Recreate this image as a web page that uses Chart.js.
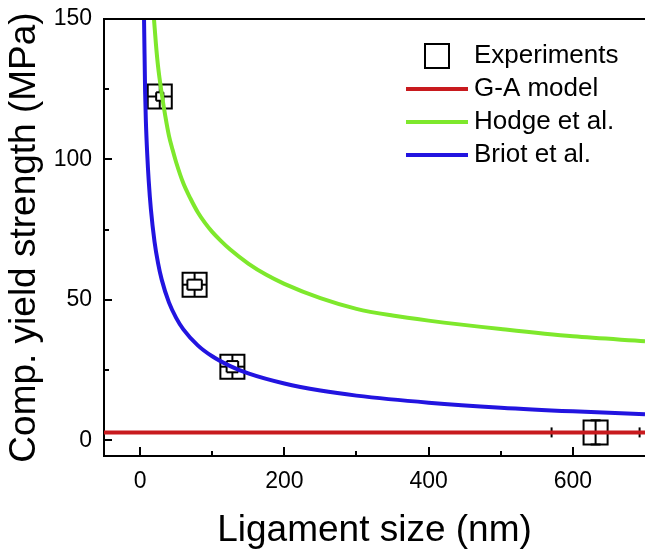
<!DOCTYPE html>
<html><head><meta charset="utf-8">
<script src="https://cdn.jsdelivr.net/npm/chart.js@4.4.1/dist/chart.umd.min.js"></script>
<style>html,body{margin:0;padding:0;background:#fff}#wrap{width:645px;height:549px}</style>
</head><body><div id="wrap"><canvas id="c" width="645" height="549"></canvas></div>
<script>
// ---- data ----
const seriesLabels = ['Experiments', 'G-A model', 'Hodge et al.', 'Briot et al.'];
const expX    = [27.3, 75.6, 128, 631.5];
const expY    = [122.4, 55.4, 26.2, 2.8];
const expXErr = [5, 10, 8, 61];
const expYErr = [1.5, 1.8, 2, 4.3];
const gaX = [-50, 700];
const gaY = [2.8, 2.8];
const hodgeX = [19.3, 22, 25, 30, 35, 40, 45, 50, 60, 70, 80, 90, 100, 112, 125, 150, 175, 200, 250, 300, 350, 400, 500, 600, 700];
const hodgeY = [150, 141, 133, 123.5, 115.4, 108.5, 103.5, 99, 91.5, 86, 81.2, 77.4, 74.2, 71, 67.9, 62.9, 58.9, 55.7, 50.6, 46.8, 44.4, 42.6, 39.6, 37, 35.3];
const briotX = [5, 5.5, 7, 8, 10, 12, 15, 20, 25, 30, 40, 50, 60, 80, 100, 125, 150, 200, 250, 300, 400, 500, 600, 700];
const briotY = [156, 150, 124, 114, 101.5, 92.4, 82.3, 70.8, 63, 57.2, 49.1, 43.6, 39.5, 33.8, 29.9, 26.4, 23.8, 20.2, 17.7, 15.9, 13.4, 11.6, 10.3, 9.3];
const xMajorTicks = [0, 200, 400, 600];
const xMinorTicks = [100, 300, 500];
const yMajorTicks = [0, 50, 100, 150];
const yMinorTicks = [25, 75, 125];
const xTitle = 'Ligament size (nm)';
const yTitle = 'Comp. yield strength (MPa)';

// ---- styling ----
const RED = '#c81a1e', GREEN = '#7ee82c', BLUE = '#2214e0';
const FONT = "'Liberation Sans', Arial, sans-serif";
const pts = (xs, ys) => xs.map((x, i) => ({x: x, y: ys[i]}));

const errorBars = {
  id: 'errorBars',
  beforeDatasetsDraw(chart) {
    const {ctx} = chart, xs = chart.scales.x, ys = chart.scales.y;
    const half = 12;
    ctx.save();
    ctx.strokeStyle = '#000'; ctx.lineWidth = 2; ctx.lineCap = 'butt';
    const seg = (a, b, c, d) => { ctx.beginPath(); ctx.moveTo(a, b); ctx.lineTo(c, d); ctx.stroke(); };
    for (let i = 0; i < expX.length; i++) {
      const cx = xs.getPixelForValue(expX[i]), cy = ys.getPixelForValue(expY[i]);
      const ex = Math.abs(xs.getPixelForValue(expX[i] + expXErr[i]) - cx);
      const ey = Math.abs(ys.getPixelForValue(expY[i] + expYErr[i]) - cy);
      if (ex >= half) {
        seg(cx - ex, cy, cx + ex, cy);
        seg(cx - ex, cy - 5, cx - ex, cy + 5);
        seg(cx + ex, cy - 5, cx + ex, cy + 5);
      } else {
        const h = Math.min(ey, half);
        seg(cx - ex, cy - h, cx - ex, cy + h);
        seg(cx + ex, cy - h, cx + ex, cy + h);
        seg(cx - half, cy, cx - ex, cy);
        seg(cx + ex, cy, cx + half, cy);
      }
      if (ey >= half) {
        seg(cx, cy - ey, cx, cy + ey);
        seg(cx - 5, cy - ey, cx + 5, cy - ey);
        seg(cx - 5, cy + ey, cx + 5, cy + ey);
      } else {
        const w = Math.min(ex, half);
        seg(cx - w, cy - ey, cx + w, cy - ey);
        seg(cx - w, cy + ey, cx + w, cy + ey);
        seg(cx, cy - half, cx, cy - ey);
        seg(cx, cy + ey, cx, cy + half);
      }
    }
    ctx.restore();
  }
};

const frameTicks = {
  id: 'frameTicks',
  afterDraw(chart) {
    const {ctx, chartArea: a} = chart, xs = chart.scales.x, ys = chart.scales.y;
    ctx.save();
    ctx.strokeStyle = '#000'; ctx.lineWidth = 2;
    const seg = (p, q, r, s) => { ctx.beginPath(); ctx.moveTo(p, q); ctx.lineTo(r, s); ctx.stroke(); };
    seg(a.left - 1, a.top, a.right, a.top);
    xMajorTicks.forEach(v => { const p = Math.round(xs.getPixelForValue(v)); seg(p, a.bottom, p, a.bottom - 9); });
    xMinorTicks.forEach(v => { const p = Math.round(xs.getPixelForValue(v)); seg(p, a.bottom, p, a.bottom - 5); });
    yMajorTicks.forEach(v => { const p = Math.round(ys.getPixelForValue(v)); seg(a.left, p, a.left + 8, p); });
    yMinorTicks.forEach(v => { const p = Math.round(ys.getPixelForValue(v)); seg(a.left, p, a.left + 5, p); });
    ctx.restore();
  }
};

const insideLegend = {
  id: 'insideLegend',
  afterDraw(chart) {
    const {ctx} = chart;
    const rows = [56, 89, 122, 155];
    const x0 = 406, x1 = 468, tx = 474;
    ctx.save();
    ctx.font = '26px ' + FONT;
    ctx.textBaseline = 'middle'; ctx.textAlign = 'left';
    chart.data.datasets.forEach((ds, i) => {
      const y = rows[i];
      if (ds.showLine === false) {
        ctx.strokeStyle = '#000'; ctx.lineWidth = 2;
        ctx.strokeRect((x0 + x1) / 2 - 12, y - 12, 24, 24);
      } else {
        ctx.strokeStyle = ds.borderColor; ctx.lineWidth = 4;
        ctx.beginPath(); ctx.moveTo(x0, y); ctx.lineTo(x1, y); ctx.stroke();
      }
      ctx.fillStyle = '#000';
      ctx.fillText(ds.label, tx, y);
    });
    ctx.restore();
  }
};

new Chart(document.getElementById('c'), {
  type: 'scatter',
  data: {
    datasets: [
      {label: seriesLabels[0], data: pts(expX, expY), showLine: false, pointStyle: 'rect',
       pointRadius: 17, pointHoverRadius: 17, pointBorderWidth: 2, pointBorderColor: '#000',
       pointBackgroundColor: 'rgba(0,0,0,0)', order: 3},
      {label: seriesLabels[1], data: pts(gaX, gaY), showLine: true, borderColor: RED, borderWidth: 4,
       pointRadius: 0, order: 0},
      {label: seriesLabels[2], data: pts(hodgeX, hodgeY), showLine: true, borderColor: GREEN, borderWidth: 4,
       pointRadius: 0, cubicInterpolationMode: 'monotone', order: 1},
      {label: seriesLabels[3], data: pts(briotX, briotY), showLine: true, borderColor: BLUE, borderWidth: 4,
       pointRadius: 0, cubicInterpolationMode: 'monotone', order: 2}
    ]
  },
  options: {
    responsive: false, animation: false, devicePixelRatio: 1, events: [],
    layout: {autoPadding: false, padding: {top: 19, right: 0, bottom: 0, left: 0}},
    plugins: {legend: {display: false}, tooltip: {enabled: false}},
    scales: {
      x: {
        type: 'linear', min: -50, max: 700,
        afterBuildTicks: s => { s.ticks = xMajorTicks.map(v => ({value: v})); },
        afterFit: s => { s.height = 93; s.paddingLeft = 0; s.paddingRight = 0; },
        grid: {display: false, drawTicks: false},
        border: {display: true, color: '#000', width: 2},
        ticks: {color: '#000', padding: 12, maxRotation: 0, font: {family: FONT, size: 23}},
        title: {display: true, text: xTitle, color: '#000', padding: {top: 0, bottom: 0},
                font: {family: FONT, size: 37, lineHeight: 1}}
      },
      y: {
        type: 'linear', min: -5.6, max: 150,
        afterBuildTicks: s => { s.ticks = yMajorTicks.map(v => ({value: v})); },
        afterFit: s => { s.width = 104; s.paddingTop = 0; s.paddingBottom = 0; },
        grid: {display: false, drawTicks: false},
        border: {display: true, color: '#000', width: 2},
        ticks: {color: '#000', padding: 12, font: {family: FONT, size: 23}},
        title: {display: true, text: yTitle, color: '#000', padding: {top: 6, bottom: 0},
                font: {family: FONT, size: 37, lineHeight: 1}}
      }
    }
  },
  plugins: [errorBars, frameTicks, insideLegend]
});
</script>
</body></html>
